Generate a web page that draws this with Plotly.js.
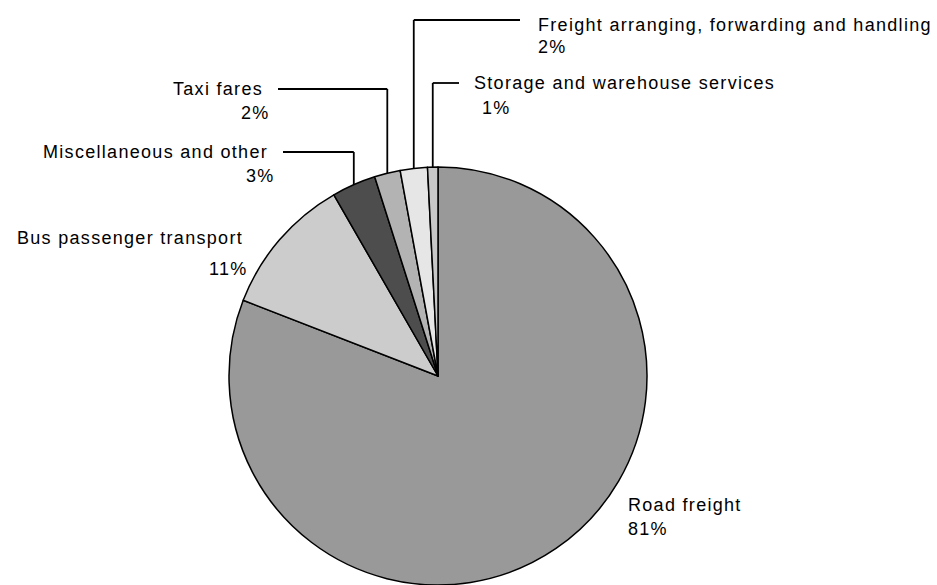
<!DOCTYPE html>
<html>
<head>
<meta charset="utf-8">
<script src="https://cdn.plot.ly/plotly-3.0.1.min.js"></script>
<style>
  html, body { margin: 0; padding: 0; background: #ffffff; }
  #chart { width: 937px; height: 585px; }
  .annotation-text { letter-spacing: 1.3px; }
</style>
</head>
<body>
<div id="chart"></div>
<script>
// ---- data ----
const categories = [
  'Road freight',
  'Bus passenger transport',
  'Miscellaneous and other',
  'Taxi fares',
  'Freight arranging, forwarding and handling',
  'Storage and warehouse services'
];
const shares = [80.9, 10.8, 3.4, 2.0, 2.1, 0.8];
const sliceColors = ['#999999', '#cccccc', '#4d4d4d', '#b3b3b3', '#e6e6e6', '#c8c8c8'];

// ---- layout constants ----
const W = 937, H = 585;
const pieLeft = 228, pieRight = 648, pieTop = 167, pieBottom = 585;
const domX = [pieLeft / W, pieRight / W];
const domY = [0, (H - pieTop) / H];
const R = Math.min((domX[1] - domX[0]) * W, (domY[1] - domY[0]) * H) / 2;
const cx = (domX[0] + domX[1]) / 2 * W;
const cy = H - (domY[0] + domY[1]) / 2 * H;

const px = x => x / W;
const py = y => 1 - y / H;

// label placement per category (pixels): name pos, pct pos, anchor, leader elbow
const placement = [
  { name: [627, 505], pct: [627, 529], anchor: 'left' },
  { name: [244, 238], pct: [249, 269], anchor: 'right' },
  { name: [269, 152], pct: [276, 176], anchor: 'right', elbowY: 152, lineEnd: 283 },
  { name: [264, 89],  pct: [271, 113], anchor: 'right', elbowY: 89,  lineEnd: 278 },
  { name: [537, 25],  pct: [537, 47],  anchor: 'left',  elbowY: 20,  lineEnd: 520 },
  { name: [473, 83],  pct: [481, 108], anchor: 'left',  elbowY: 83,  lineEnd: 459 }
];

const total = shares.reduce((a, b) => a + b, 0);
const font = { family: '"Liberation Sans", Arial, sans-serif', size: 18, color: '#000000' };

const annotations = [];
const shapes = [];
let cum = 0;
shares.forEach((v, i) => {
  const mid = (cum + v / 2) / total * 2 * Math.PI; // clockwise from top
  cum += v;
  const p = placement[i];
  const pctText = Math.round(v / total * 100) + '%';
  annotations.push({
    xref: 'paper', yref: 'paper', x: px(p.name[0]), y: py(p.name[1]),
    xanchor: p.anchor, yanchor: 'middle', text: categories[i],
    showarrow: false, font: font, borderpad: 0
  });
  annotations.push({
    xref: 'paper', yref: 'paper', x: px(p.pct[0]), y: py(p.pct[1]),
    xanchor: p.anchor, yanchor: 'middle', text: pctText,
    showarrow: false, font: font, borderpad: 0
  });
  if (p.elbowY !== undefined) {
    const ax = cx + R * Math.sin(mid);
    const ay = cy - R * Math.cos(mid);
    shapes.push({ type: 'line', xref: 'paper', yref: 'paper',
      x0: px(ax), y0: py(ay), x1: px(ax), y1: py(p.elbowY),
      line: { color: '#000000', width: 1.8 } });
    shapes.push({ type: 'line', xref: 'paper', yref: 'paper',
      x0: px(ax), y0: py(p.elbowY), x1: px(p.lineEnd), y1: py(p.elbowY),
      line: { color: '#000000', width: 1.8 } });
  }
});

const trace = {
  type: 'pie',
  labels: categories,
  values: shares,
  sort: false,
  direction: 'clockwise',
  rotation: 0,
  textinfo: 'none',
  hoverinfo: 'label+percent',
  marker: { colors: sliceColors, line: { color: '#000000', width: 1.5 } },
  domain: { x: domX, y: domY },
  showlegend: false
};

const layout = {
  width: W, height: H,
  margin: { l: 0, r: 0, t: 0, b: 0 },
  paper_bgcolor: '#ffffff',
  plot_bgcolor: '#ffffff',
  showlegend: false,
  annotations: annotations,
  shapes: shapes,
  font: font
};

Plotly.newPlot('chart', [trace], layout, { displayModeBar: false, staticPlot: true });
</script>
</body>
</html>
